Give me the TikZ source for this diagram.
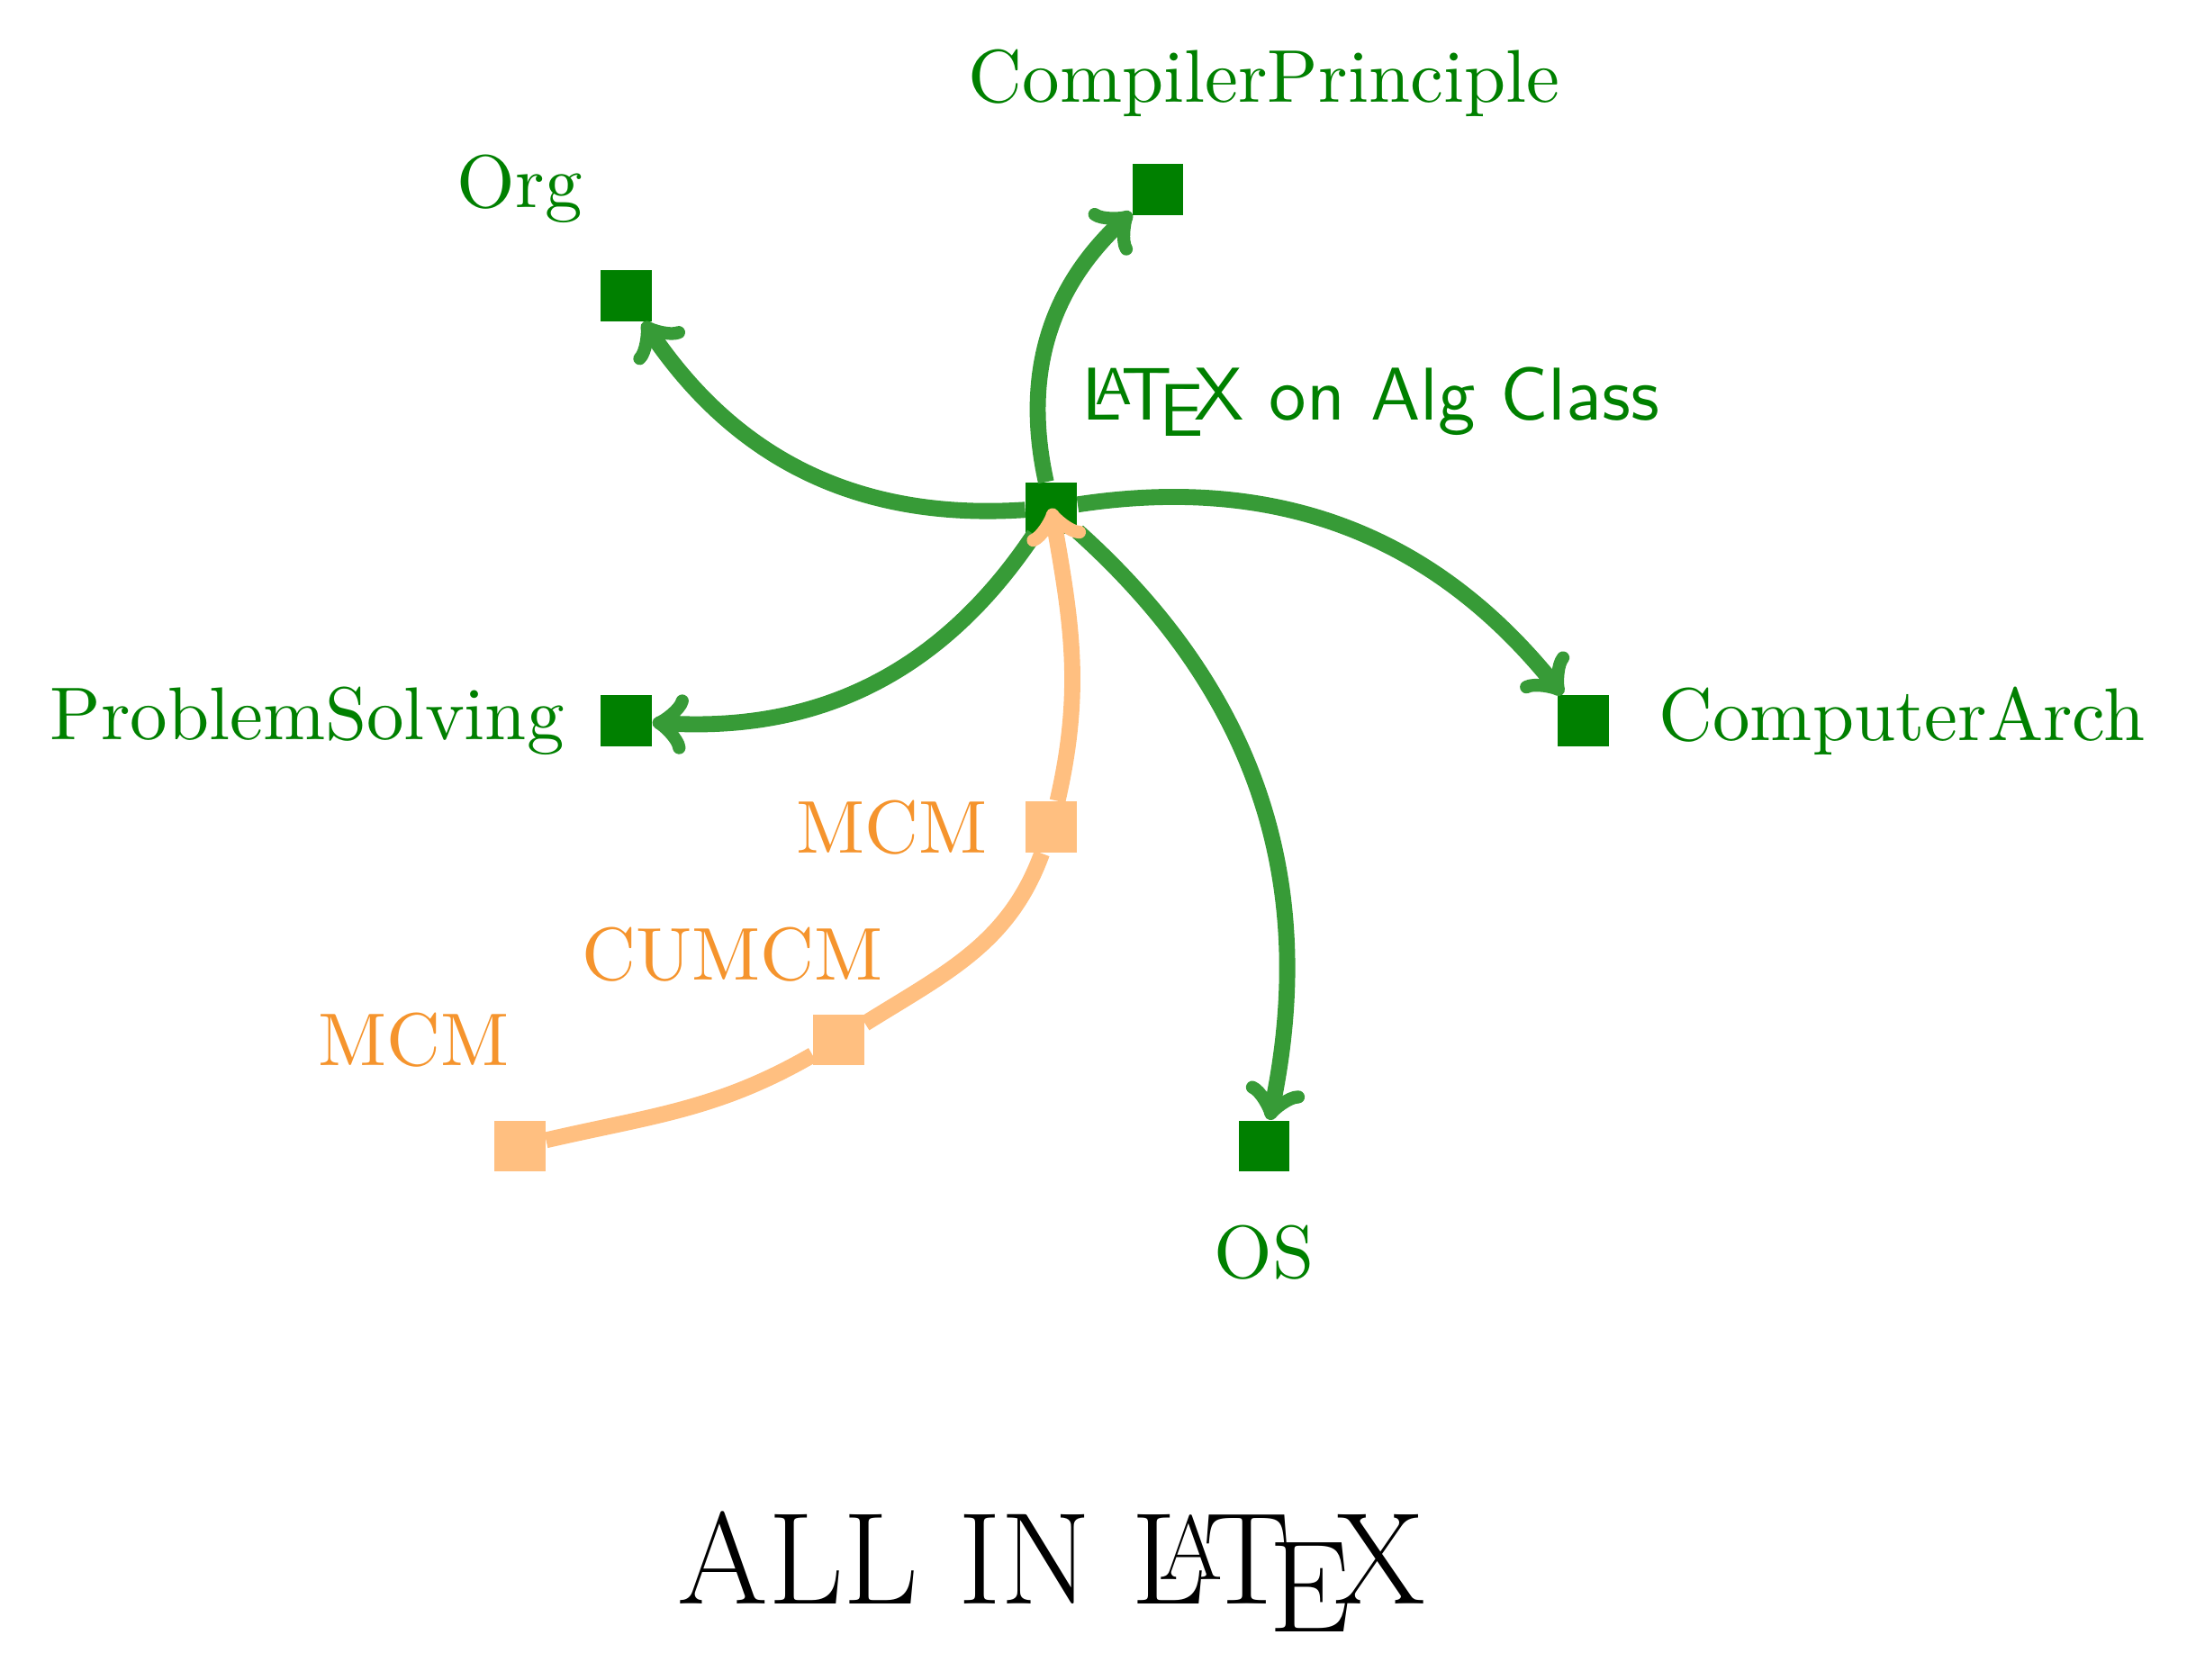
\documentclass[tikz,border=0pt]{standalone}
\usetikzlibrary{arrows}
\definecolor{algdark}{RGB}{0,128,0}
\definecolor{algline}{RGB}{55,155,55}
\definecolor{mcmlight}{RGB}{255,191,128}
\definecolor{mcmtext}{RGB}{245,148,45}
\tikzstyle{sq}=[fill=algdark, minimum size=0.48cm, inner sep=0pt]
\tikzstyle{msq}=[sq, fill=mcmlight]
\tikzstyle{lbl}=[text=algdark, inner sep=0pt]
\tikzstyle{mlbl}=[text=mcmtext, inner sep=0pt]
\tikzstyle{link}=[->, algline, line width=4.3pt, bend left=30]
\tikzstyle{mlink}=[->, mcmlight, line width=4.3pt]
\newcommand{\lbltext}[1]{\scalebox{2}{#1}}

\begin{document}
\begin{tikzpicture}[scale=1]
		%\draw [help lines] (-10,-11) grid (11,5);
		\useasboundingbox (-9.888,-11.02) rectangle (10.764,4.78);

		% the class itself
		\node[sq] (alg) at (0,0) {};
		\node[lbl] (alglbl) at (3,1) {\lbltext{\sffamily\LaTeX{} on Alg Class}};

		% courses
		\node[sq] (org) at (-4,2) {};
		\node[lbl] (orglbl) at (-5,3) {\lbltext{Org}};
		\node[sq] (comp) at (1,3) {};
		\node[lbl] (complbl) at (2,4) {\lbltext{CompilerPrinciple}};
		\node[sq] (prob) at (-4,-2) {};
		\node[lbl] (problbl) at (-7,-2) {\lbltext{ProblemSolving}};
		\node[sq] (arch) at (5,-2) {};
		\node[lbl] (archlbl) at (8,-2) {\lbltext{ComputerArch}};
		\node[sq] (os) at (2,-6) {};
		\node[lbl] (oslbl) at (2,-7) {\lbltext{OS}};

		% contests
		\node[msq] (mcm) at (0,-3) {};
		\node[mlbl] (mcmlbl) at (-1.5,-3) {\lbltext{MCM}};
		\node[msq] (cumcm) at (-2,-5) {};
		\node[mlbl] (cumcmlbl) at (-3,-4.2) {\lbltext{CUMCM}};
		\node[msq] (mcmb) at (-5,-6) {};
		\node[mlbl] (mcmblbl) at (-6,-5) {\lbltext{MCM}};

		\draw[link] (alg) to (org);
		\draw[link] (alg) to (comp);
		\draw[link] (alg) to (arch);
		\draw[link] (alg) to (os);
		\draw[link] (alg) to (prob);

		\draw[mlink] (mcmb) to[out=13, in=-150] (cumcm)
			to[out=32, in=-110] (mcm)
			to[out=77, in=-80] (alg.center);

		\node (title) at (0,-10) {\fontsize{35}{42}\selectfont ALL IN \LaTeX};
	\end{tikzpicture}
\end{document}
